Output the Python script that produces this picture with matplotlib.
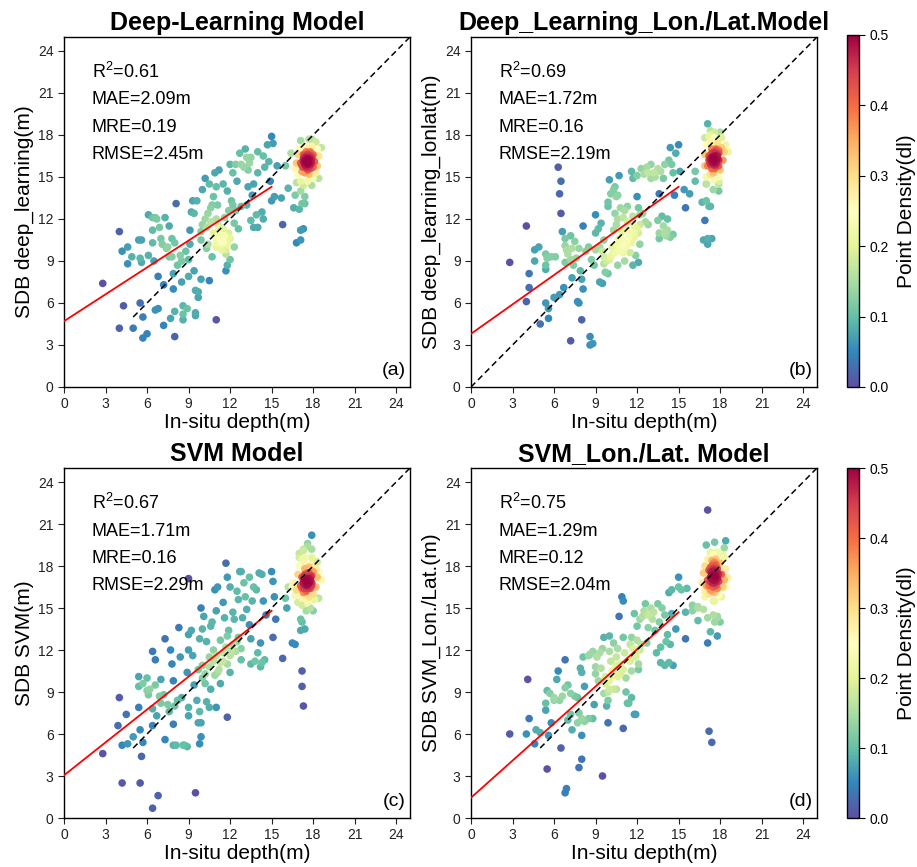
import numpy as np
import matplotlib
matplotlib.use("Agg")
import matplotlib.pyplot as plt

plt.rcParams['font.family'] = ['Liberation Sans', 'DejaVu Sans']
plt.rcParams['mathtext.fontset'] = 'custom'
plt.rcParams['mathtext.rm'] = 'Liberation Sans'

# ---------------- data (in-situ depth, predicted depth) ----------------
points_a = [
    (2.8, 7.4), (4.0, 11.1), (4.0, 4.2), (4.2, 9.7), (4.3, 5.8), (4.6, 10.0), (4.6, 8.8), (4.9, 9.3),
    (5.0, 4.2), (5.4, 10.5), (5.5, 6.0), (5.6, 10.5), (5.5, 9.2), (5.6, 8.9), (5.7, 5.0), (5.7, 3.5),
    (6.0, 3.8), (6.1, 9.4), (6.1, 12.3), (6.4, 12.1), (6.6, 12.1), (6.7, 12.0), (7.3, 12.1), (6.4, 11.2),
    (6.4, 10.3), (6.5, 9.0), (6.6, 5.5), (6.8, 5.6), (6.8, 7.9), (6.9, 11.4), (7.0, 10.6), (7.1, 10.2),
    (7.2, 7.3), (7.2, 4.4), (7.4, 9.9), (7.5, 10.0), (7.6, 11.5), (7.8, 10.6), (7.6, 9.3), (7.8, 9.3),
    (8.0, 10.3), (7.9, 8.1), (7.7, 4.9), (8.0, 3.6), (7.9, 7.0), (8.0, 5.4), (8.2, 8.7), (8.4, 9.4),
    (8.1, 13.1), (8.5, 9.0), (8.5, 7.5), (8.6, 5.8), (8.6, 5.2), (8.6, 4.8), (8.9, 5.6), (8.8, 9.7),
    (9.0, 7.9), (9.0, 9.1), (9.1, 10.2), (9.1, 11.2), (9.2, 12.5), (9.3, 13.3), (9.4, 12.4), (9.6, 13.3),
    (9.4, 8.3), (9.5, 6.9), (9.5, 5.3), (9.5, 5.1), (9.7, 6.8), (9.7, 6.4), (9.9, 7.7), (9.9, 11.1),
    (9.9, 10.5), (10.0, 11.6), (10.0, 14.1), (10.2, 14.9), (10.2, 12.0), (10.3, 9.9), (10.3, 11.4),
    (10.4, 10.2), (10.5, 7.6), (10.6, 12.8), (10.8, 13.6), (10.9, 15.3), (11.0, 14.3), (11.2, 15.5),
    (11.0, 4.8), (10.7, 9.3), (11.0, 12.0), (11.0, 10.3), (11.1, 13.0), (11.2, 11.3), (11.3, 10.6),
    (11.4, 9.8), (11.5, 10.4), (11.5, 14.5), (11.7, 9.5), (11.8, 14.0), (11.7, 8.3), (11.8, 8.7),
    (11.9, 10.7), (11.9, 12.6), (12.0, 9.1), (12.0, 15.9), (12.1, 13.3), (12.3, 11.7), (12.3, 10.0),
    (12.4, 15.9), (12.5, 14.7), (12.7, 16.7), (12.8, 12.9), (12.6, 11.3), (13.0, 15.7), (13.1, 17.0),
    (13.2, 16.4), (13.2, 13.0), (13.3, 15.5), (13.3, 14.3), (13.5, 16.4), (13.5, 11.9), (13.6, 13.7),
    (13.7, 14.5), (13.7, 11.4), (13.9, 12.3), (14.0, 16.8), (14.0, 11.4), (14.0, 15.3), (14.3, 12.5),
    (14.4, 16.5), (14.4, 12.0), (14.5, 15.7), (14.7, 17.3), (14.8, 16.1), (14.9, 14.7), (15.0, 17.9),
    (15.1, 17.4), (15.0, 13.3), (15.2, 13.6), (15.4, 15.8), (15.7, 13.5), (15.8, 11.6), (16.0, 15.8),
    (16.2, 14.2), (16.4, 16.7), (16.6, 12.8), (16.7, 13.7), (16.8, 10.3), (17.1, 10.5), (17.1, 11.2),
    (17.3, 11.3), (17.0, 12.7), (17.2, 13.1), (17.4, 13.1), (17.4, 13.6), (17.1, 14.0), (17.1, 17.6),
    (17.9, 17.7),
    # green band / middle cluster
    (11.0, 10.6), (11.2, 10.9), (11.4, 10.3), (11.6, 10.8), (11.3, 9.9), (11.8, 10.2), (11.0, 10.0),
    (11.5, 11.3), (11.7, 9.8), (12.0, 10.6), (11.2, 11.5), (10.8, 11.0), (11.9, 11.0),
    (10.6, 11.8), (10.4, 12.4), (10.7, 13.0), (12.2, 13.0), (11.6, 12.1), (12.4, 12.6),
    (12.8, 15.9), (13.4, 16.0), (12.2, 15.3), (10.5, 14.5),
    # dense cluster
    (17.4, 16.0), (17.6, 16.2), (17.8, 15.9), (17.5, 15.7), (17.7, 16.5), (17.3, 16.3), (17.9, 16.3),
    (17.6, 15.5), (17.2, 15.8), (18.0, 15.7), (17.5, 16.8), (17.8, 16.8), (17.4, 15.3), (17.1, 16.0),
    (18.1, 16.1), (17.7, 15.2), (17.3, 16.6), (18.0, 16.6), (17.6, 16.0), (17.5, 16.4), (17.8, 16.2),
    (17.2, 15.4), (16.9, 15.2), (16.8, 16.0), (16.9, 16.6), (17.0, 17.0), (17.4, 17.2), (17.9, 17.2),
    (18.3, 17.0), (18.4, 16.5), (18.3, 15.8), (18.2, 15.3), (18.0, 14.9), (17.6, 14.7), (17.1, 14.7),
    (16.8, 14.6), (16.7, 15.6), (18.6, 17.1), (18.2, 17.5), (17.7, 17.7), (18.4, 14.9), (17.9, 14.4),
    (17.3, 14.4),
    (17.5, 16.1), (17.7, 16.0), (17.6, 16.3), (17.4, 15.9), (17.8, 16.4), (17.5, 15.8), (17.7, 15.7),
    (17.3, 16.1), (17.6, 16.6), (17.9, 16.0), (17.4, 16.5), (17.6, 15.9), (17.8, 15.6), (17.5, 16.2),
    (17.7, 16.3), (17.3, 15.7), (17.6, 15.6), (17.9, 16.5), (17.4, 16.2), (17.7, 16.7),
]

points_b = [
    (2.8, 8.9), (4.0, 6.1), (4.0, 11.5), (4.2, 8.1), (4.2, 7.1), (4.6, 9.8), (4.6, 9.0), (4.9, 10.0),
    (5.0, 4.5), (5.4, 9.5), (5.5, 9.2), (5.4, 8.7), (5.4, 8.4), (5.4, 6.0), (5.6, 5.6), (5.6, 4.9),
    (5.8, 9.3), (6.1, 9.3), (6.0, 6.4), (6.4, 6.6), (6.3, 15.7), (6.5, 14.7), (6.4, 13.8), (6.5, 12.4),
    (6.6, 11.1), (6.8, 10.6), (6.8, 10.1), (6.7, 7.1), (6.9, 9.8), (6.8, 8.9), (7.0, 9.5), (7.2, 10.8),
    (7.2, 9.1), (7.3, 9.9), (7.3, 7.8), (7.2, 3.3), (7.4, 8.7), (7.5, 10.4), (7.6, 9.2), (7.7, 6.1),
    (7.8, 6.0), (7.8, 9.9), (7.9, 8.3), (8.0, 7.7), (8.0, 4.8), (8.1, 11.5), (8.1, 7.0), (8.3, 9.7),
    (8.5, 10.0), (8.6, 3.6), (8.6, 3.0), (8.8, 3.1), (8.7, 9.1), (8.9, 8.7), (9.0, 9.8), (9.0, 11.0),
    (9.0, 12.3), (9.2, 11.3), (9.3, 10.0), (9.3, 7.5), (9.5, 7.4), (9.4, 11.7), (9.6, 8.8), (9.6, 9.3),
    (9.6, 10.5), (9.7, 8.2), (9.9, 8.1), (9.9, 12.9), (9.9, 13.2), (10.0, 14.8), (10.1, 13.8),
    (10.3, 14.1), (10.4, 14.3), (10.2, 9.5), (10.2, 10.0), (10.3, 11.2), (10.4, 12.4), (10.5, 13.6),
    (10.6, 12.0), (10.6, 13.7), (10.7, 15.1), (10.7, 10.6), (10.8, 9.7), (10.8, 12.8), (10.9, 11.1),
    (10.6, 8.7), (11.0, 10.1), (11.1, 12.6), (11.1, 9.0), (11.3, 11.8), (11.3, 10.4), (11.3, 12.9),
    (11.5, 11.0), (11.5, 9.6), (11.6, 15.4), (11.7, 8.7), (11.7, 14.9), (11.7, 12.2), (11.8, 11.5),
    (11.8, 10.7), (11.9, 9.4), (12.1, 8.9), (12.0, 15.1), (12.0, 13.6), (12.1, 11.0), (12.2, 10.2),
    (12.2, 12.3), (12.3, 15.6), (12.5, 15.2), (12.6, 11.8), (12.7, 15.7), (12.8, 11.6), (13.0, 15.9),
    (13.2, 15.3), (13.3, 15.0), (13.5, 15.6), (13.5, 11.9), (13.6, 13.8), (13.6, 11.0), (13.6, 10.6),
    (13.8, 12.2), (13.7, 15.4), (13.9, 11.5), (14.0, 11.0), (14.1, 10.8), (14.2, 11.2), (14.0, 15.9),
    (14.2, 12.0), (14.3, 16.2), (14.4, 10.7), (14.5, 15.9), (14.6, 10.9), (14.4, 17.1), (14.7, 13.7),
    (14.8, 16.7), (15.0, 17.3), (15.1, 15.4), (15.5, 12.8), (15.4, 14.1), (15.8, 13.8), (16.2, 15.4),
    (16.2, 14.7), (16.7, 13.2), (16.9, 11.9), (16.8, 10.5), (17.1, 10.6), (17.1, 10.2), (17.4, 10.6),
    (17.2, 12.9), (17.3, 12.9), (17.0, 13.3), (17.5, 14.1), (17.9, 14.0), (17.9, 14.5), (17.0, 14.5),
    (17.1, 18.8), (17.3, 18.3),
    # middle cluster
    (10.6, 10.2), (10.9, 10.5), (11.2, 10.0), (11.4, 10.7), (11.0, 9.6), (11.6, 10.3), (11.8, 11.0),
    (11.3, 11.2), (10.7, 9.8), (12.0, 11.3), (10.4, 9.6), (10.1, 9.3),
    (12.2, 11.6), (9.8, 9.0), (10.0, 9.1), (9.5, 9.7), (12.4, 12.4), (12.1, 12.8),
    (11.0, 12.1), (10.5, 11.6), (13.0, 14.9), (12.8, 15.3), (14.6, 15.3), (13.9, 14.9),
    # dense cluster
    (17.3, 16.0), (17.5, 16.3), (17.7, 16.0), (17.4, 15.6), (17.6, 16.7), (17.2, 16.5), (17.8, 16.5),
    (17.5, 15.3), (17.1, 15.8), (17.9, 15.8), (17.4, 17.0), (17.7, 17.0), (17.3, 15.2), (17.6, 15.9),
    (17.8, 16.3), (17.5, 16.0), (17.2, 16.2), (17.4, 16.4), (17.9, 16.9), (17.6, 15.6), (17.0, 15.0),
    (16.9, 15.8), (16.9, 16.6), (17.0, 17.3), (17.3, 17.5), (17.8, 17.4), (18.1, 17.1), (18.3, 16.8),
    (18.2, 16.2), (18.0, 15.5), (18.6, 16.8), (18.4, 17.3), (18.1, 17.8), (17.6, 17.8), (17.2, 17.9),
    (17.0, 14.5), (17.5, 14.8), (17.9, 15.0), (18.0, 18.2), (17.6, 18.2), (17.3, 18.0), (16.9, 17.8),
    (17.9, 14.7),
    (17.5, 16.3), (17.7, 16.2), (17.6, 16.5), (17.4, 16.1), (17.8, 16.6), (17.5, 16.0), (17.7, 15.9),
    (17.3, 16.3), (17.6, 16.8), (17.9, 16.2), (17.4, 16.7), (17.6, 16.1), (17.8, 15.8), (17.5, 16.4),
    (17.7, 16.5), (17.3, 15.9), (17.6, 15.8), (17.9, 16.7), (17.4, 16.4), (17.7, 16.9),
]

points_c = [
    (2.8, 4.6), (4.0, 8.6), (3.9, 6.6), (4.2, 5.2), (4.2, 2.5), (4.5, 7.4), (4.6, 5.3), (5.0, 5.8),
    (5.4, 7.9), (5.4, 10.1), (5.4, 9.4), (5.5, 6.3), (5.5, 2.5), (5.6, 4.4), (5.7, 9.6), (5.7, 5.4),
    (6.0, 10.0), (6.0, 9.1), (6.1, 8.8), (6.2, 9.2), (6.4, 7.8), (6.4, 11.9), (6.4, 6.6), (6.4, 0.7),
    (6.6, 11.3), (6.6, 9.5), (6.7, 7.3), (6.8, 1.6), (6.9, 8.7), (7.0, 8.2), (7.0, 9.9), (7.3, 12.8),
    (7.2, 8.8), (7.3, 5.6), (7.5, 8.1), (7.6, 7.6), (7.7, 12.0), (7.8, 11.0), (7.9, 9.8), (7.9, 6.7),
    (7.9, 5.2), (8.0, 8.0), (8.1, 5.2), (8.2, 8.4), (8.3, 13.6), (8.4, 11.5), (8.5, 8.6), (8.6, 5.2),
    (8.7, 5.2), (8.9, 5.1), (8.9, 10.4), (9.0, 17.1), (9.0, 13.1), (9.0, 12.0), (9.0, 7.9), (9.0, 7.3),
    (9.2, 13.4), (9.3, 11.6), (9.4, 9.5), (9.5, 1.8), (9.6, 8.4), (9.7, 6.8), (9.8, 7.6), (9.8, 5.3),
    (9.9, 5.8), (9.9, 6.8), (9.8, 12.8), (9.9, 15.0), (10.0, 13.5), (10.0, 10.9), (10.1, 14.4),
    (10.2, 9.6), (10.3, 12.6), (10.3, 8.3), (10.5, 7.9), (10.5, 11.5), (10.6, 13.7), (10.6, 9.2),
    (10.8, 12.0), (10.9, 16.3), (11.0, 14.8), (11.1, 16.5), (11.1, 10.4), (11.0, 7.9), (11.3, 9.6),
    (11.3, 12.7), (11.5, 15.4), (11.5, 11.2), (11.7, 18.2), (11.8, 7.2), (11.8, 17.2), (11.8, 13.0),
    (12.0, 10.4), (12.0, 16.5), (12.1, 11.9), (12.2, 14.7), (12.5, 16.2), (12.7, 17.6), (12.5, 12.6),
    (12.8, 17.6), (12.8, 11.3), (12.9, 14.3), (13.0, 16.8), (13.1, 15.8), (13.4, 13.8), (13.4, 17.2),
    (13.5, 11.0), (13.6, 15.5), (13.5, 12.8), (13.9, 16.3), (13.8, 11.2), (14.1, 17.5), (14.3, 17.4),
    (14.2, 10.8), (14.3, 11.1), (14.5, 11.3), (14.2, 12.5), (14.0, 11.8), (14.4, 15.5), (14.6, 14.5),
    (15.0, 17.6), (15.1, 16.9), (15.1, 12.9), (15.3, 14.2), (15.2, 15.8), (15.8, 11.4), (16.1, 15.0),
    (16.0, 15.7), (16.5, 12.5), (16.7, 12.4), (17.1, 13.4), (17.4, 13.5), (17.2, 14.0), (17.2, 10.5),
    (17.2, 9.4), (17.3, 8.0), (17.1, 14.2), (17.9, 20.2), (17.6, 19.6), (17.3, 19.2), (17.0, 18.6),
    (18.0, 14.8), (18.4, 15.7),
    # middle cluster
    (10.5, 10.8), (10.8, 11.2), (11.0, 11.6), (11.3, 11.1), (11.5, 11.8), (11.7, 12.2), (12.0, 11.6),
    (12.2, 12.4), (11.2, 10.6), (11.8, 11.0), (12.4, 11.9), (10.2, 10.3), (10.0, 10.0),
    (12.6, 12.9), (10.9, 10.2), (9.7, 10.6), (12.8, 12.1), (11.9, 13.4),
    (12.3, 14.2), (13.2, 14.9), (12.6, 15.6), (11.6, 14.3), (10.7, 14.0), (13.7, 16.5),
    # dense cluster
    (17.3, 16.8), (17.5, 17.1), (17.7, 16.8), (17.4, 16.4), (17.6, 17.5), (17.2, 17.2), (17.8, 17.3),
    (17.5, 16.2), (17.1, 16.6), (17.9, 16.6), (17.4, 17.8), (17.7, 17.9), (17.3, 16.1), (17.6, 16.7),
    (17.8, 17.0), (17.5, 16.9), (17.2, 16.4), (17.4, 17.4), (18.0, 17.6), (17.6, 16.4), (16.8, 16.3),
    (16.6, 16.8), (16.9, 17.4), (17.0, 18.0), (17.4, 18.2), (17.9, 18.1), (18.2, 17.8), (18.3, 17.2),
    (18.2, 16.5), (18.0, 16.0), (18.6, 17.0), (18.4, 17.6), (16.5, 16.5), (17.2, 15.7), (17.7, 15.8),
    (16.7, 15.9), (18.1, 15.6), (17.9, 18.6), (17.4, 18.6), (16.9, 15.4), (16.2, 16.5), (18.3, 18.3),
    (17.6, 15.4), (17.2, 15.2), (17.5, 14.8), (17.8, 15.0), (17.0, 18.9), (17.3, 19.1), (17.6, 19.4),
    (17.2, 18.5), (17.9, 19.2),
    (17.5, 16.9), (17.7, 16.8), (17.6, 17.1), (17.4, 16.7), (17.8, 17.2), (17.5, 16.6), (17.7, 16.5),
    (17.3, 16.9), (17.6, 17.4), (17.9, 16.8), (17.4, 17.3), (17.6, 16.7), (17.8, 16.4), (17.5, 17.0),
    (17.7, 17.1), (17.3, 16.5), (17.6, 16.4), (17.9, 17.3), (17.4, 17.0), (17.7, 17.5),
]

points_d = [
    (2.8, 6.0), (4.0, 6.0), (4.1, 9.9), (4.2, 7.1), (4.7, 6.3), (4.6, 5.3), (5.0, 6.1), (5.4, 8.2),
    (5.4, 7.7), (5.5, 3.5), (5.5, 9.1), (5.6, 5.9), (5.7, 8.9), (5.8, 6.8), (6.0, 8.6), (6.0, 8.4),
    (6.2, 9.9), (6.3, 10.5), (6.4, 8.4), (6.5, 5.0), (6.6, 8.7), (6.8, 11.3), (6.8, 9.3), (6.9, 2.1),
    (6.8, 1.8), (7.0, 9.5), (7.0, 7.0), (7.2, 8.9), (7.2, 7.4), (7.3, 6.3), (7.5, 8.7), (7.7, 8.6),
    (7.7, 6.8), (7.8, 3.6), (7.8, 7.5), (7.9, 10.7), (8.0, 10.4), (8.0, 5.9), (8.0, 4.2), (8.0, 7.1),
    (8.1, 11.5), (8.2, 9.4), (8.2, 6.9), (8.5, 11.6), (8.5, 7.1), (8.8, 11.9), (8.8, 7.1), (8.9, 8.1),
    (9.0, 10.8), (9.0, 10.3), (9.1, 11.5), (9.2, 9.8), (9.4, 10.7), (9.5, 3.0), (9.5, 12.1), (9.6, 12.9),
    (9.6, 8.9), (9.7, 10.1), (9.8, 8.0), (9.9, 8.4), (9.9, 6.8), (10.0, 11.9), (10.0, 9.8), (10.0, 13.0),
    (10.1, 11.2), (10.2, 10.5), (10.3, 9.2), (10.3, 12.5), (10.5, 10.9), (10.5, 9.2), (10.6, 12.1),
    (10.7, 14.4), (10.8, 10.3), (10.9, 15.8), (11.0, 15.5), (11.0, 6.4), (11.0, 12.9), (11.2, 10.0),
    (11.2, 9.0), (11.4, 8.2), (11.5, 12.4), (11.5, 11.2), (11.6, 10.5), (11.6, 12.9), (11.6, 8.6),
    (11.8, 7.4), (11.8, 14.6), (11.9, 11.6), (12.0, 13.7), (12.0, 12.0), (12.1, 11.0), (12.1, 10.6),
    (12.2, 14.2), (12.3, 12.4), (12.5, 14.8), (12.6, 15.3), (12.7, 12.5), (12.8, 14.5), (13.0, 15.0),
    (13.1, 14.2), (13.3, 13.4), (13.4, 11.8), (13.5, 15.3), (13.6, 14.0), (13.7, 12.2), (13.7, 11.1),
    (13.8, 15.0), (14.0, 10.9), (14.0, 14.5), (14.1, 12.6), (14.2, 13.1), (14.3, 11.1), (14.3, 16.1),
    (14.4, 12.4), (14.5, 14.6), (14.5, 16.3), (14.6, 10.9), (14.8, 13.5), (15.0, 17.2), (15.0, 16.5),
    (15.2, 16.3), (15.5, 12.8), (15.5, 14.7), (15.6, 16.4), (16.0, 14.8), (16.4, 15.1), (16.4, 14.1),
    (16.8, 14.9), (17.1, 12.5), (17.1, 14.3), (17.3, 13.3), (17.5, 14.5), (17.8, 13.0), (17.8, 14.4),
    (17.6, 14.0), (17.1, 22.0), (17.2, 6.2), (17.4, 5.4), (17.0, 19.5), (17.6, 19.7), (18.4, 19.8),
    (18.3, 19.3),
    # middle cluster
    (10.5, 11.5), (10.8, 11.0), (11.1, 11.8), (11.4, 11.3), (11.7, 12.1), (11.0, 10.6), (10.3, 10.5),
    (10.1, 10.0), (11.9, 11.5), (12.2, 12.0), (9.7, 9.6), (10.0, 9.2), (10.6, 10.1),
    (12.0, 12.7), (9.9, 9.0), (11.9, 7.4), (11.3, 8.2), (9.3, 11.8),
    (8.6, 11.7), (12.8, 13.6), (13.2, 14.7), (12.4, 14.4),
    # dense cluster
    (17.3, 17.2), (17.5, 17.6), (17.7, 17.2), (17.4, 16.8), (17.6, 18.0), (17.2, 17.7), (17.8, 17.8),
    (17.5, 16.5), (17.1, 17.0), (17.9, 16.9), (17.4, 18.4), (17.7, 18.5), (17.3, 16.3), (17.6, 17.0),
    (17.8, 16.4), (17.5, 18.8), (17.2, 16.0), (17.4, 17.4), (18.0, 18.2), (17.6, 16.1), (16.9, 18.0),
    (17.0, 16.6), (18.1, 17.4), (17.1, 18.5), (16.8, 17.5), (16.9, 16.2), (18.3, 17.0), (18.4, 17.8),
    (18.2, 16.5), (18.5, 17.2), (18.6, 17.1), (18.3, 18.6), (17.8, 19.0), (17.3, 19.0), (16.9, 15.8),
    (17.9, 15.9), (16.7, 16.8), (18.2, 18.8), (16.4, 15.0), (16.0, 15.2), (17.6, 15.5), (18.1, 15.8),
    (18.4, 16.5), (17.5, 15.5), (17.8, 14.3), (18.0, 14.0),
    (17.5, 17.3), (17.7, 17.5), (17.3, 17.6), (17.6, 16.8), (17.4, 18.0), (17.8, 17.1), (17.5, 18.2),
    (17.2, 16.6), (17.7, 16.6), (17.5, 17.0), (17.4, 16.2), (17.7, 18.1),
    (17.6, 17.3), (17.4, 17.1), (17.8, 17.5), (17.5, 17.8), (17.3, 16.9), (17.7, 16.9), (17.6, 17.7),
    (17.4, 17.6), (17.9, 17.4), (17.5, 16.8), (17.6, 18.3), (17.3, 17.9),
]

titles = ["Deep-Learning Model", "Deep_Learning_Lon./Lat.Model", "SVM Model", "SVM_Lon./Lat. Model"]
ylabels = ["SDB deep_learning(m)", "SDB deep_learning_lonlat(m)", "SDB SVM(m)", "SDB SVM_Lon./Lat.(m)"]
r2_vals = ["0.61", "0.69", "0.67", "0.75"]
mae_vals = ["2.09", "1.72", "1.71", "1.29"]
mre_vals = ["0.19", "0.16", "0.16", "0.12"]
rmse_vals = ["2.45", "2.19", "2.29", "2.04"]
panel_tags = ["(a)", "(b)", "(c)", "(d)"]
fit_slope = [0.64, 0.70, 0.783, 0.883]
fit_intercept = [4.7, 3.8, 3.05, 1.45]
oneone_start = [5, 0, 5, 5]
ticks = [0, 3, 6, 9, 12, 15, 18, 21, 24]
cbar_ticks = [0.0, 0.1, 0.2, 0.3, 0.4, 0.5]

# ---------------- figure ----------------
W, H = 917, 867
fig = plt.figure(figsize=(W / 100, H / 100), dpi=100)

def fr(left, top, right, bottom):
    return [left / W, 1 - bottom / H, (right - left) / W, (bottom - top) / H]

ax_boxes = [fr(64, 37, 410, 387), fr(471, 37, 817, 387), fr(64, 468, 410, 818), fr(471, 468, 817, 818)]
cb_boxes = [fr(847, 35, 859, 387), fr(847, 468, 859, 818)]

def density(x, y, h=0.6):
    dx = x[:, None] - x[None, :]
    dy = y[:, None] - y[None, :]
    d = np.exp(-(dx ** 2 + dy ** 2) / (2 * h ** 2)).sum(axis=1)
    d = (d - d.min()) / (d.max() - d.min())
    return 0.5 * d ** 0.7

all_points = [points_a, points_b, points_c, points_d]
cmap = plt.get_cmap('Spectral_r')
scs = []
for i, pts in enumerate(all_points):
    ax = fig.add_axes(ax_boxes[i])
    arr = np.array(pts, dtype=float)
    x, y = arr[:, 0], arr[:, 1]
    z = density(x, y)
    order = np.argsort(z)
    sc = ax.scatter(x[order], y[order], c=z[order], cmap=cmap, vmin=0, vmax=0.5,
                    s=30, edgecolors='none', zorder=2)
    scs.append(sc)
    xl = np.array([0, 15])
    ax.plot(xl, fit_slope[i] * xl + fit_intercept[i], color='red', lw=1.3, zorder=3)
    ax.plot([oneone_start[i], 25], [oneone_start[i], 25], color='black', ls=(0, (4, 2.5)), lw=1.1, zorder=3)
    ax.set_xlim(0, 25)
    ax.set_ylim(0, 25)
    ax.set_xticks(ticks)
    ax.set_yticks(ticks)
    ax.tick_params(labelsize=10, length=4, width=0.8, direction='out', colors='#222222')
    for s in ax.spines.values():
        s.set_linewidth(1.0)
    ax.set_title(titles[i], fontsize=18, fontweight='bold', pad=5)
    ax.set_xlabel("In-situ depth(m)", fontsize=15, labelpad=1)
    ax.set_ylabel(ylabels[i], fontsize=15, labelpad=3)
    fs = 13
    ax.text(2.0, 22.5, r"R$^2$=" + r2_vals[i], fontsize=fs, va='center')
    ax.text(2.0, 20.5, "MAE=" + mae_vals[i] + "m", fontsize=fs, va='center')
    ax.text(2.0, 18.55, "MRE=" + mre_vals[i], fontsize=fs, va='center')
    ax.text(2.0, 16.6, "RMSE=" + rmse_vals[i] + "m", fontsize=fs, va='center')
    ax.text(24.7, 1.2, panel_tags[i], fontsize=14, ha='right', va='center')

for j, box in enumerate(cb_boxes):
    cax = fig.add_axes(box)
    cb = fig.colorbar(scs[2 * j + 1], cax=cax)
    cb.set_ticks(cbar_ticks)
    cb.set_ticklabels([f"{t:.1f}" for t in cbar_ticks])
    cb.ax.tick_params(labelsize=10, length=4)
    cb.set_label("Point Density(dl)", fontsize=15, labelpad=6)
    cb.outline.set_linewidth(1.0)

fig.savefig("out.png", dpi=100)
